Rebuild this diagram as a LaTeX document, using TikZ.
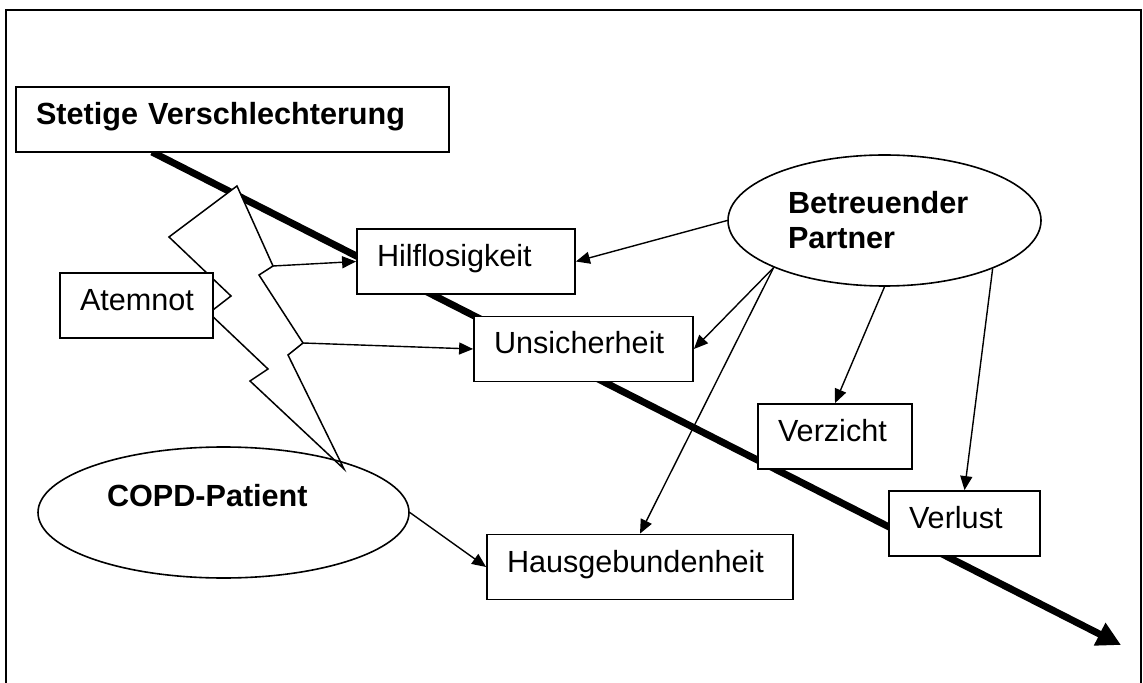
\documentclass[tikz,border=0pt]{standalone}
\usepackage{fontspec}
\setmainfont{Liberation Sans}
\usetikzlibrary{shapes.geometric}
\usetikzlibrary{arrows.meta}
\newcommand{\schrift}{\fontsize{15.3}{17.5}\selectfont}

\begin{document}
\begin{tikzpicture}[x=0.5pt,y=-0.5pt,line join=miter,
  kasten/.style={rectangle, draw, line width=0.9pt, fill=white, inner xsep=10pt, inner ysep=0pt, minimum height=32.5pt, align=left, text height=0.75em, text depth=0.25em, font=\schrift},
  oval/.style={ellipse, draw, line width=0.8pt, inner sep=0pt, align=left, minimum height=65.5pt, font=\schrift\bfseries},
  pfeil/.style={-{Triangle[length=7pt,width=6pt]}, line width=0.7pt}]
  \useasboundingbox (0,0) rectangle (1143,683);
  % Rahmen
  \draw[line width=1pt] (6,700) -- (6,10) -- (1141,10) -- (1141,700);

  % Verlauf
  \coordinate (verlauf anfang) at (152,152);
  \coordinate (verlauf ende) at (1121,645);
  \draw[line width=3.5pt, -{Triangle[length=12pt,width=12pt]}] (verlauf anfang) -- (verlauf ende);

  % Blitz
  \coordinate (b1) at (237,186);
  \coordinate (b2) at (273,266);
  \coordinate (b3) at (259,275);
  \coordinate (b4) at (303,343);
  \coordinate (b5) at (288,355);
  \coordinate (b6) at (344,469);
  \coordinate (b7) at (250,381);
  \coordinate (b8) at (268,369);
  \coordinate (b9) at (209,313);
  \coordinate (b10) at (231,296);
  \coordinate (b11) at (169,237);
  \filldraw[fill=white, line width=0.75pt] (b1) -- (b2) -- (b3) -- (b4) -- (b5) -- (b6) -- (b7) -- (b8) -- (b9) -- (b10) -- (b11) -- cycle;

  % Knoten
  \node[kasten, text width=196.5pt, font=\schrift\bfseries] (stetig) at (232.5,119.5) {Stetige Verschlechterung};
  \node[kasten, text width=56.5pt] (atemnot) at (136.5,305.5) {Atemnot};
  \node[kasten, text width=89pt] (hilf) at (466,261.5) {Hilflosigkeit};
  \node[kasten, text width=89.5pt] (unsich) at (583.5,349) {Unsicherheit};
  \node[kasten, text width=57pt] (verzicht) at (835,436.5) {Verzicht};
  \node[kasten, text width=55.5pt] (verlust) at (964.5,523.5) {Verlust};
  \node[kasten, text width=133pt] (haus) at (640,567) {Hausgebundenheit};
  \node[oval, minimum width=156.5pt, text width=96.5pt] (partner) at (884.5,220.5) {Betreuender\\Partner};
  \node[oval, minimum width=185.5pt, text width=116.5pt] (copd) at (223.5,512.5) {COPD-Patient\\\mbox{}};

  % Pfeile
  \draw[pfeil] (b2) -- (hilf.west);
  \draw[pfeil] (b4) -- (unsich.west);
  \draw[pfeil] (partner.west) -- (hilf.east);
  \draw[pfeil] (partner.203) -- (unsich.east);
  \draw[pfeil] (partner.203) -- (haus.north);
  \draw[pfeil] (partner.south) -- (verzicht.north);
  \draw[pfeil] (partner.336.5) -- (verlust.north);
  \draw[pfeil] (copd.east) -- (haus.west);
\end{tikzpicture}
\end{document}
